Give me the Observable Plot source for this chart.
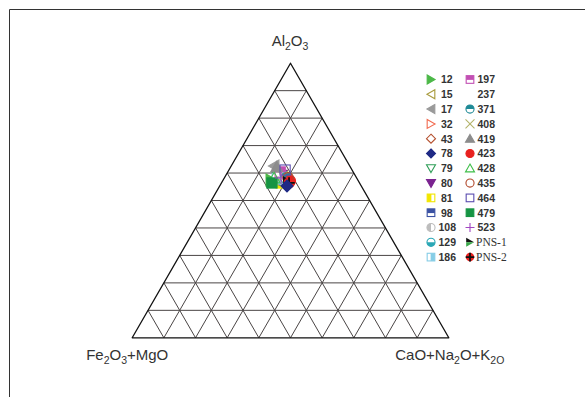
<!DOCTYPE html>
<html>
<head>
<meta charset="utf-8">
<script src="https://cdn.jsdelivr.net/npm/d3@7"></script>
<script src="https://cdn.jsdelivr.net/npm/@observablehq/plot@0.6"></script>
<style>
  html, body { margin: 0; padding: 0; background: #fff; }
  #chart { position: relative; width: 585px; height: 397px; }
</style>
</head>
<body>
<div id="chart"></div>
<script>
// ---- data (percent) ----
const samples = ["12","15","17","32","43","78","79","80","81","98","108","129","186",
                 "197","237","371","408","419","423","428","435","464","479","523","PNS-1","PNS-2"];
const al2o3 = [57.3,56.9,62.4,58.0,56.9,55.1,58.4,59.1,56.2,57.3,59.5,58.4,57.7,
               60.2,58.0,58.0,58.7,62.0,56.9,58.0,58.0,60.9,56.2,58.0,56.6,56.2];
const fe2o3mgo = [27.3,26.0,23.9,23.2,22.2,23.4,24.6,23.0,24.7,23.2,23.7,22.4,25.2,
                  23.0,23.5,22.3,22.9,23.2,21.5,26.0,21.6,21.1,27.6,23.8,22.3,22.2];
const caona2ok2o = [15.4,17.1,13.7,18.8,20.9,21.5,17.0,17.9,19.1,19.5,16.8,19.2,17.1,
                    16.8,18.5,19.7,18.4,14.8,21.6,16.0,20.4,18.0,16.2,18.2,21.1,21.6];
const gridTicks = [10,20,30,40,50,60,70,80,90];

// ---- marker styles (keyed by sample) ----
const styles = {
  "12":   {shape:"triR", fill:"#4cb848", stroke:"#4cb848"},
  "15":   {shape:"triL", fill:"none", stroke:"#a89a3c"},
  "17":   {shape:"triL", fill:"#9a9a9a", stroke:"#9a9a9a"},
  "32":   {shape:"triR", fill:"none", stroke:"#f26a4f"},
  "43":   {shape:"diamond", fill:"none", stroke:"#b5502e"},
  "78":   {shape:"diamond", fill:"#1f2a85", stroke:"#1f2a85"},
  "79":   {shape:"triD", fill:"none", stroke:"#2f9e58"},
  "80":   {shape:"triD", fill:"#7b2390", stroke:"#7b2390"},
  "81":   {shape:"sqLeft", fill:"#f2e600", stroke:"#f2e600"},
  "98":   {shape:"sqTop", fill:"#3b52a3", stroke:"#3b52a3"},
  "108":  {shape:"ciLeft", fill:"#bdbdbd", stroke:"#bdbdbd"},
  "129":  {shape:"ciBottom", fill:"#2aa7b5", stroke:"#2aa7b5"},
  "186":  {shape:"sqRight", fill:"#86cde6", stroke:"#86cde6"},
  "197":  {shape:"sqTop", fill:"#c24fb3", stroke:"#c24fb3"},
  "237":  {shape:"none"},
  "371":  {shape:"ciTop", fill:"#1f8a96", stroke:"#1f8a96"},
  "408":  {shape:"times", fill:"none", stroke:"#b3b36a"},
  "419":  {shape:"triU", fill:"#8c8c8c", stroke:"#8c8c8c"},
  "423":  {shape:"circle", fill:"#e8211f", stroke:"#e8211f"},
  "428":  {shape:"triU", fill:"none", stroke:"#3fbf4a"},
  "435":  {shape:"circleO", fill:"none", stroke:"#b0472a"},
  "464":  {shape:"square", fill:"none", stroke:"#5b4db0"},
  "479":  {shape:"square", fill:"#169443", stroke:"#169443"},
  "523":  {shape:"plus", fill:"none", stroke:"#a246c2"},
  "PNS-1":{shape:"pns1", fill:"#3aa84a", stroke:"#111"},
  "PNS-2":{shape:"pns2", fill:"#e8211f", stroke:"#111"}
};

const S3 = Math.sqrt(3) / 2;
const tx = (a, c) => (c + a / 2) / 100;
const ty = (a) => a * S3 / 100;

const rows = samples.map((s, i) => ({sample: s, a: al2o3[i], f: fe2o3mgo[i], c: caona2ok2o[i]}));

// grid line endpoints (ternary)
const gridLines = [];
for (const t of gridTicks) {
  gridLines.push({a1: t, c1: 0, a2: t, c2: 100 - t});          // constant Al2O3
  gridLines.push({a1: 0, c1: t, a2: 100 - t, c2: t});          // constant CaO+Na2O+K2O
  gridLines.push({a1: 0, c1: 100 - t, a2: 100 - t, c2: 0});    // constant Fe2O3+MgO
}
const outline = [{a:100,c:0},{a:0,c:0},{a:0,c:100},{a:100,c:0}];

const plot = Plot.plot({
  width: 585,
  height: 397,
  marginLeft: 131.7,
  marginRight: 136.7,
  marginTop: 62.7,
  marginBottom: 59.7,
  x: {domain: [0, 1], axis: null},
  y: {domain: [0, S3], axis: null},
  style: {background: "white", overflow: "visible"},
  marks: [
    Plot.link(gridLines, {
      x1: d => tx(d.a1, d.c1), y1: d => ty(d.a1),
      x2: d => tx(d.a2, d.c2), y2: d => ty(d.a2),
      stroke: "#4a4545", strokeWidth: 1
    }),
    Plot.line(outline, {x: d => tx(d.a, d.c), y: d => ty(d.a), stroke: "#111", strokeWidth: 1.3})
  ]
});
document.getElementById("chart").appendChild(plot);

const svg = d3.select(plot);
const xs = plot.scale("x"), ys = plot.scale("y");
const X = (a, c) => xs.apply(tx(a, c));
const Y = (a) => ys.apply(ty(a));

// frame
svg.append("line").attr("x1", 9.5).attr("y1", 9.5).attr("x2", 585).attr("y2", 9.5)
  .attr("stroke", "#333").attr("stroke-width", 1);
svg.append("line").attr("x1", 9.5).attr("y1", 9.5).attr("x2", 9.5).attr("y2", 397)
  .attr("stroke", "#333").attr("stroke-width", 1);

// symbol drawer
function drawSymbol(g, st, x, y, s) {
  const h = s / 2, sw = 1.1;
  const poly = (pts, fill, stroke) => g.append("polygon")
    .attr("points", pts.map(p => p.join(",")).join(" "))
    .attr("fill", fill).attr("stroke", stroke || "none").attr("stroke-width", sw)
    .attr("stroke-linejoin", "miter");
  switch (st.shape) {
    case "triR": poly([[x-h*0.85,y-h],[x+h*0.9,y],[x-h*0.85,y+h]], st.fill, st.stroke); break;
    case "triL": poly([[x+h*0.85,y-h],[x-h*0.9,y],[x+h*0.85,y+h]], st.fill, st.stroke); break;
    case "triU": poly([[x,y-h*0.95],[x+h,y+h*0.8],[x-h,y+h*0.8]], st.fill, st.stroke); break;
    case "triD": poly([[x,y+h*0.95],[x+h,y-h*0.8],[x-h,y-h*0.8]], st.fill, st.stroke); break;
    case "diamond": poly([[x,y-h],[x+h,y],[x,y+h],[x-h,y]], st.fill, st.stroke); break;
    case "square": {
      const q = h * 0.85;
      g.append("rect").attr("x", x-q).attr("y", y-q).attr("width", 2*q).attr("height", 2*q)
        .attr("fill", st.fill).attr("stroke", st.stroke).attr("stroke-width", sw);
      break;
    }
    case "sqLeft": case "sqRight": case "sqTop": {
      const q = h * 0.85;
      g.append("rect").attr("x", x-q).attr("y", y-q).attr("width", 2*q).attr("height", 2*q)
        .attr("fill", "#fff").attr("stroke", st.stroke).attr("stroke-width", sw);
      if (st.shape === "sqLeft") g.append("rect").attr("x", x-q).attr("y", y-q).attr("width", q*1.1).attr("height", 2*q).attr("fill", st.fill);
      if (st.shape === "sqRight") g.append("rect").attr("x", x-q*0.1).attr("y", y-q).attr("width", q*1.1).attr("height", 2*q).attr("fill", st.fill);
      if (st.shape === "sqTop") g.append("rect").attr("x", x-q).attr("y", y-q).attr("width", 2*q).attr("height", q*1.1).attr("fill", st.fill);
      break;
    }
    case "circle": case "circleO":
      g.append("circle").attr("cx", x).attr("cy", y).attr("r", h*0.9)
        .attr("fill", st.fill).attr("stroke", st.stroke).attr("stroke-width", sw);
      break;
    case "ciLeft": case "ciTop": case "ciBottom": {
      const r = h * 0.9;
      g.append("circle").attr("cx", x).attr("cy", y).attr("r", r)
        .attr("fill", "#fff").attr("stroke", st.stroke).attr("stroke-width", sw);
      let d;
      if (st.shape === "ciLeft") d = `M${x},${y-r} A${r},${r} 0 0 0 ${x},${y+r} Z`;
      if (st.shape === "ciTop") d = `M${x-r},${y} A${r},${r} 0 0 1 ${x+r},${y} Z`;
      if (st.shape === "ciBottom") d = `M${x-r},${y} A${r},${r} 0 0 0 ${x+r},${y} Z`;
      g.append("path").attr("d", d).attr("fill", st.fill);
      break;
    }
    case "times":
      g.append("path").attr("d", `M${x-h},${y-h}L${x+h},${y+h}M${x+h},${y-h}L${x-h},${y+h}`)
        .attr("stroke", st.stroke).attr("stroke-width", sw).attr("fill", "none");
      break;
    case "plus":
      g.append("path").attr("d", `M${x-h},${y}L${x+h},${y}M${x},${y-h}L${x},${y+h}`)
        .attr("stroke", st.stroke).attr("stroke-width", sw).attr("fill", "none");
      break;
    case "pns1":
      poly([[x-h*0.85,y-h],[x+h*0.9,y],[x-h*0.85,y]], "#111");
      poly([[x-h*0.85,y],[x+h*0.9,y],[x-h*0.85,y+h]], st.fill);
      break;
    case "pns2":
      g.append("circle").attr("cx", x).attr("cy", y).attr("r", h*0.95).attr("fill", st.fill);
      g.append("path").attr("d", `M${x-h*0.95},${y}L${x+h*0.95},${y}M${x},${y-h*0.95}L${x},${y+h*0.95}`)
        .attr("stroke", st.stroke).attr("stroke-width", 1.8);
      break;
  }
}

// data markers (positions through the Plot scales)
const gPts = svg.append("g");
const order = rows.filter(r => r.sample !== "78").concat(rows.filter(r => r.sample === "78"));
for (const r of order) {
  drawSymbol(gPts.append("g"), styles[r.sample], X(r.a, r.c), Y(r.a), 12);
}

// vertex labels with subscripts
function label(x, y, parts, anchor) {
  const t = svg.append("text").attr("x", x).attr("y", y)
    .attr("text-anchor", anchor).attr("fill", "#333")
    .attr("font-family", "Liberation Sans, Arial, sans-serif").attr("font-size", 15);
  let shift = 0;
  for (const [txt, sub] of parts) {
    const target = sub ? 3.5 : 0;
    t.append("tspan").text(txt)
      .attr("font-size", sub ? 10.5 : 15)
      .attr("dy", target - shift);
    shift = target;
  }
}
label(X(100, 0), 46, [["Al",0],["2",1],["O",0],["3",1]], "middle");
label(X(0, 0) - 4.5, 360, [["Fe",0],["2",1],["O",0],["3",1],["+MgO",0]], "middle");
label(X(0, 100) + 1.5, 360, [["CaO+Na",0],["2",1],["O+K",0],["2O",1]], "middle");

// legend
const lg = svg.append("g");
samples.forEach((s, i) => {
  const col = i < 13 ? 0 : 1, row = i % 13;
  const mx = col === 0 ? 431 : 470, y = 79.5 + row * 14.8;
  drawSymbol(lg.append("g"), styles[s], mx, y, 9);
  const serif = s.startsWith("PNS");
  lg.append("text").attr("x", serif ? mx + 6 : mx + (s.length > 2 ? 7.5 : 10)).attr("y", y + 3.8)
    .attr("text-anchor", "start")
    .attr("fill", "#333")
    .attr("font-family", serif ? "Liberation Serif, Times New Roman, serif" : "Liberation Sans, Arial, sans-serif")
    .attr("font-weight", serif ? "normal" : "bold")
    .attr("font-size", serif ? 11.5 : 10.5)
    .text(s);
});
</script>
</body>
</html>
